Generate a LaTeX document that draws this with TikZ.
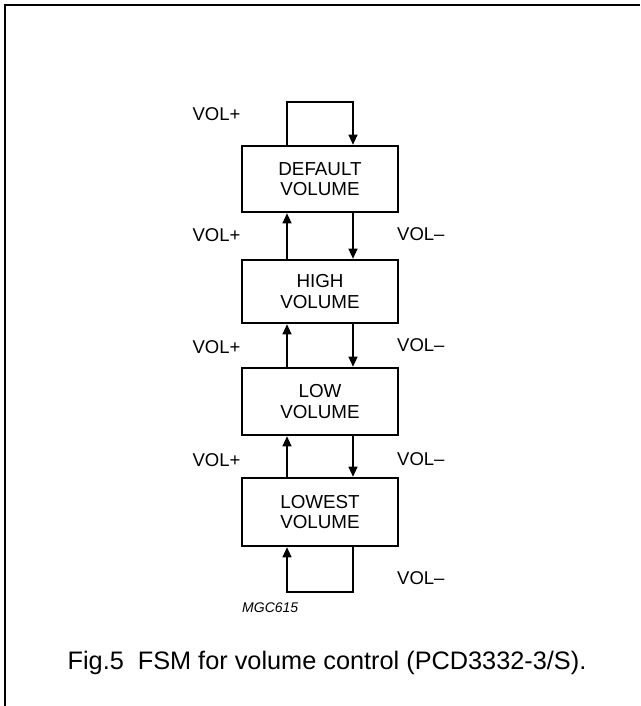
\documentclass[tikz,border=0pt]{standalone}
\usepackage{fontspec}
\setmainfont{Liberation Sans}
\usetikzlibrary{arrows.meta}
\begin{document}
\begin{tikzpicture}[x=1pt,y=-1pt,
  state/.style={draw,line width=2.6pt,minimum width=156pt,align=center,inner sep=0pt,
    font=\fontsize{18.8}{20.5}\selectfont},
  lbl/.style={font=\fontsize{18.5}{20}\selectfont,inner sep=0pt},
  arr/.style={line width=1.1pt,-{Triangle[length=10pt,width=9pt]}},
  frame/.style={line width=1.8pt}]
\useasboundingbox (0,0) rectangle (640,706);
\draw[frame] (5,706) -- (5,5) -- (640,5);
% states
\node[state,minimum height=66pt] (def) at (320,179) {DEFAULT\\VOLUME};
\node[state,minimum height=63pt] (high) at (320,291.5) {HIGH\\VOLUME};
\node[state,minimum height=67pt] (low) at (320,401.5) {LOW\\VOLUME};
\node[state,minimum height=68pt] (lowest) at (320,512) {LOWEST\\VOLUME};
% loop corners
\coordinate (tl) at (287,102);
\coordinate (tr) at (353,102);
\coordinate (bl) at (287,592);
\coordinate (br) at (353,592);
% connectors
\draw[arr] (def.north -| tl) -- (tl) -- (tr) -- (def.north -| tr);
\draw[arr] (high.north -| tl) -- (def.south -| tl);
\draw[arr] (def.south -| tr) -- (high.north -| tr);
\draw[arr] (low.north -| tl) -- (high.south -| tl);
\draw[arr] (high.south -| tr) -- (low.north -| tr);
\draw[arr] (lowest.north -| tl) -- (low.south -| tl);
\draw[arr] (low.south -| tr) -- (lowest.north -| tr);
\draw[arr] (lowest.south -| br) -- (br) -- (bl) -- (lowest.south -| bl);
% labels
\node[lbl] (p0) at (216.5,114) {VOL+};
\node[lbl] (p1) at (216.5,235) {VOL+};
\node[lbl] (p2) at (216.5,347) {VOL+};
\node[lbl] (p3) at (216.5,460) {VOL+};
\node[lbl,anchor=west] (m1) at (397,234) {VOL–};
\node[lbl,anchor=west] (m2) at (397,345) {VOL–};
\node[lbl,anchor=west] (m3) at (397,459) {VOL–};
\node[lbl,anchor=west] (m4) at (397,578) {VOL–};
\node[inner sep=0pt,anchor=west,font=\fontsize{14}{16}\selectfont\itshape] (code) at (242,608) {MGC615};
\node[inner sep=0pt,font=\fontsize{25.3}{28}\selectfont] (cap) at (327,663) {Fig.5\hspace{0.55em}FSM for volume control (PCD3332-3/S).};
\end{tikzpicture}
\end{document}
